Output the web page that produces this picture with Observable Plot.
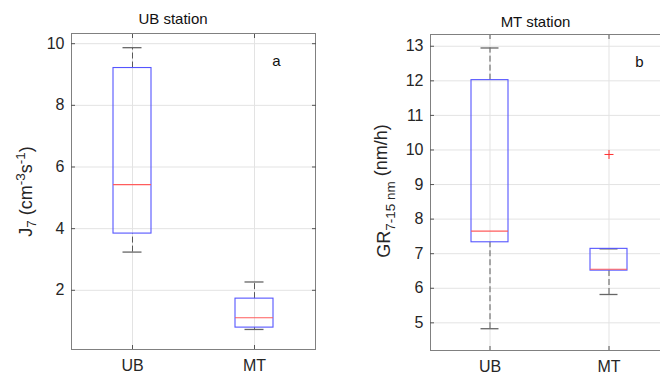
<!DOCTYPE html>
<html><head><meta charset="utf-8">
<script src="https://cdn.jsdelivr.net/npm/d3@7"></script>
<script src="https://cdn.jsdelivr.net/npm/@observablehq/plot@0.6"></script>
<style>
html,body{margin:0;padding:0;background:#fff;overflow:hidden;}
#wrap{position:relative;width:660px;height:374px;overflow:hidden;font-family:"Liberation Sans",Arial,sans-serif;}
#wrap svg{position:absolute;top:0;}
</style></head><body><div id="wrap"></div>
<script>
const categories = ["UB", "MT"];
// panel a: J7 (cm-3 s-1)
const jLow  = [3.24, 0.73];
const jQ1   = [3.84, 0.79];
const jMed  = [5.43, 1.11];
const jQ3   = [9.21, 1.73];
const jHigh = [9.87, 2.27];
const jOutCat = [];
const jOutVal = [];
const jTicks = [2, 4, 6, 8, 10];
// panel b: GR 7-15 nm (nm/h)
const gLow  = [4.83, 5.82];
const gQ1   = [7.33, 6.51];
const gMed  = [7.65, 6.55];
const gQ3   = [12.02, 7.14];
const gHigh = [12.95, 7.14];
const gOutCat = ["MT"];
const gOutVal = [9.87];
const gTicks = [5, 6, 7, 8, 9, 10, 11, 12, 13];
const titles = ["UB station", "MT station"];
const tags = ["a", "b"];

const FONT = '"Liberation Sans", Arial, sans-serif';
const TXT = "#262626";

function panel(o) {
  const rows = categories.map((c, i) => ({c, low: o.low[i], q1: o.q1[i], med: o.med[i], q3: o.q3[i], high: o.high[i]}));
  const outs = o.outCat.map((c, i) => ({c, v: o.outVal[i]}));
  const capInset = 9.5;
  return Plot.plot({
    width: o.width, height: 374,
    marginLeft: o.ml, marginRight: o.mr, marginTop: o.mt, marginBottom: o.mb,
    style: {fontFamily: FONT, fontSize: "16px", color: TXT, background: "transparent", overflow: "visible"},
    x: {type: "band", domain: categories, paddingInner: 0.69, paddingOuter: 0.345, align: 0.5, label: null},
    y: {domain: o.domain, label: null},
    marks: [
      Plot.gridY(o.ticks, {stroke: "#e3e3e3", strokeOpacity: 1}),
      Plot.gridX(categories, {stroke: "#e3e3e3", strokeOpacity: 1}),
      Plot.ruleX(rows, {x: "c", y1: "q3", y2: "high", stroke: "#4a4a4a", strokeWidth: 0.9, strokeDasharray: "6,3"}),
      Plot.ruleX(rows, {x: "c", y1: "low", y2: "q1", stroke: "#4a4a4a", strokeWidth: 0.9, strokeDasharray: "6,3"}),
      Plot.tickY(rows, {x: "c", y: "high", stroke: "#666", strokeWidth: 1.3, insetLeft: capInset, insetRight: capInset}),
      Plot.tickY(rows, {x: "c", y: "low", stroke: "#666", strokeWidth: 1.3, insetLeft: capInset, insetRight: capInset}),
      Plot.barY(rows, {x: "c", y1: "q1", y2: "q3", fill: "none", stroke: "#5555ff", strokeWidth: 1.1}),
      Plot.tickY(rows, {x: "c", y: "med", stroke: "#ff5c5c", strokeWidth: 1.2}),
      Plot.dot(outs, {x: "c", y: "v", symbol: "plus", stroke: "#ff3030", strokeWidth: 1, r: 3}),
      Plot.frame({stroke: "#808080"}),
      Plot.axisY(o.ticks, {anchor: "left", tickSize: -4, tickPadding: 11, fontSize: 16, stroke: "#555", fill: TXT, label: null}),
      Plot.axisY(o.ticks, {anchor: "right", tickSize: -4, tickFormat: () => "", stroke: "#555", label: null}),
      Plot.axisX(categories, {anchor: "bottom", tickSize: -4, tickPadding: 14.5, fontSize: 16, stroke: "#555", fill: TXT, label: null}),
      Plot.axisX(categories, {anchor: "top", tickSize: -4, tickFormat: () => "", stroke: "#555", label: null}),
      Plot.text([o.title], {frameAnchor: "top", lineAnchor: "middle", dx: o.titleDx, dy: o.titleDy, fontSize: 15, fill: "#111"}),
      Plot.text([o.tag], {frameAnchor: "top-right", lineAnchor: "middle", textAnchor: "middle", dx: o.tagDx, dy: 28, fontSize: 15, fill: "#111"})
    ]
  });
}

const wrap = document.getElementById("wrap");

const svgA = panel({low: jLow, q1: jQ1, med: jMed, q3: jQ3, high: jHigh, outCat: jOutCat, outVal: jOutVal,
  ticks: jTicks, domain: [0.08, 10.33], width: 330, ml: 71, mr: 15, mt: 33, mb: 25,
  title: titles[0], titleDx: -20.5, titleDy: -14, tag: tags[0], tagDx: -39});
svgA.style.left = "0px";
wrap.appendChild(svgA);

const svgB = panel({low: gLow, q1: gQ1, med: gMed, q3: gQ3, high: gHigh, outCat: gOutCat, outVal: gOutVal,
  ticks: gTicks, domain: [4.2, 13.34], width: 338, ml: 100, mr: 0, mt: 34, mb: 24,
  title: titles[1], titleDx: -14, titleDy: -12, tag: tags[1], tagDx: -29});
svgB.style.left = "330px";
wrap.appendChild(svgB);

// y-axis labels with sub/superscripts
function ylabel(svg, x, y, parts) {
  const t = d3.select(svg).append("text")
    .attr("transform", `translate(${x},${y}) rotate(-90)`)
    .attr("text-anchor", "middle")
    .attr("font-family", FONT)
    .attr("font-size", 18)
    .attr("fill", TXT);
  for (const p of parts) {
    const s = t.append("tspan").text(p.t);
    if (p.dy) s.attr("dy", p.dy);
    if (p.small) s.attr("font-size", 13.5);
  }
}
ylabel(svgA, 31.7, 191.5, [
  {t: "J"}, {t: "7", dy: 4, small: true}, {t: " (cm", dy: -4}, {t: "-3", dy: -7, small: true},
  {t: "s", dy: 7}, {t: "-1", dy: -7, small: true}, {t: ")", dy: 7}
]);
ylabel(svgB, 60, 191, [
  {t: "GR"}, {t: "7-15 nm", dy: 4.5, small: true}, {t: " (nm/h)", dy: -8}
]);
</script></body></html>
